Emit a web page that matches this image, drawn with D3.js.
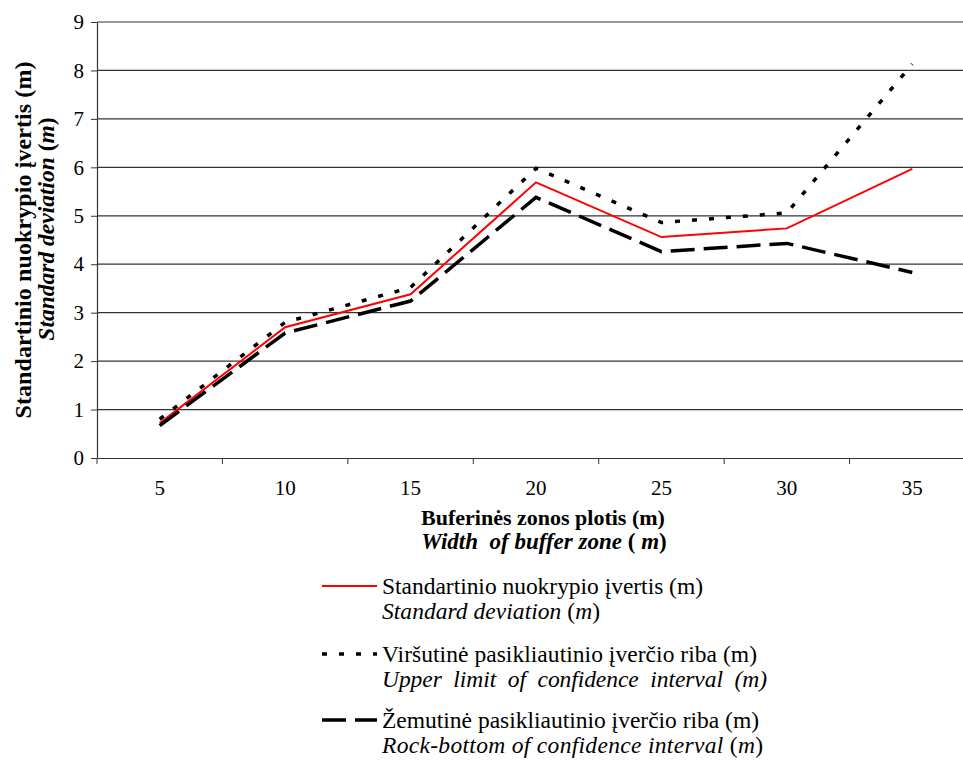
<!DOCTYPE html>
<html>
<head>
<meta charset="utf-8">
<script src="https://cdn.jsdelivr.net/npm/d3@7"></script>
</head>
<body style="margin:0; background:#fff">
<script>
const widths = ['5', '10', '15', '20', '25', '30', '35'];
const stdDev = [0.72, 2.7, 3.38, 5.69, 4.56, 4.74, 5.97];
const upperLimit = [0.8, 2.8, 3.52, 5.98, 4.86, 5.06, 8.13];
const lowerLimit = [0.67, 2.58, 3.24, 5.38, 4.26, 4.43, 3.83];
const yTicks = [0, 1, 2, 3, 4, 5, 6, 7, 8, 9];

// legend text: [text, italic] pieces
const legendItems = [
  { lt: 'Standartinio nuokrypio įvertis (m)', en: [['Standard deviation ', true], ['(', false], ['m', true], [')', false]],
    color: 'red', width: 2, dash: null, len: [321, 218] },
  { lt: 'Viršutinė pasikliautinio įverčio riba (m)', en: [['Upper  limit  of  confidence  interval  (m)', true]],
    color: '#000', width: 3.5, dash: '5,12', len: [375, 385] },
  { lt: 'Žemutinė pasikliautinio įverčio riba (m)', en: [['Rock-bottom of confidence interval ', true], ['(', false], ['m', true], [')', false]],
    color: '#000', width: 3.5, dash: '24,9', len: [377, 381] },
];

const series = [
  { values: stdDev, item: legendItems[0] },
  { values: upperLimit, item: legendItems[1] },
  { values: lowerLimit, item: legendItems[2] },
];

const W = 963, H = 762;
const plot = { left: 97, right: 975, top: 22, bottom: 458 };
const FONT = "'Liberation Serif', 'Times New Roman', serif";

const svg = d3.select('body').append('svg')
  .attr('width', W)
  .attr('height', H)
  .style('display', 'block')
  .style('font-family', FONT);

const x = d3.scaleBand().domain(widths).range([plot.left, plot.right]);
const y = d3.scaleLinear().domain([0, 9]).range([plot.bottom, plot.top]);

// gridlines
svg.append('g')
  .selectAll('line')
  .data(yTicks.slice(1))
  .join('line')
  .attr('x1', plot.left).attr('x2', plot.right)
  .attr('y1', d => y(d)).attr('y2', d => y(d))
  .attr('stroke', '#333')
  .attr('stroke-width', 1.2);

// y axis
const yAxis = svg.append('g')
  .attr('transform', `translate(${plot.left},0)`)
  .call(d3.axisLeft(y).tickValues(yTicks).tickSize(6).tickSizeOuter(0).tickPadding(7));
yAxis.attr('font-family', null);
yAxis.select('.domain').attr('stroke', '#333').attr('stroke-width', 1.2);
yAxis.selectAll('.tick line').attr('stroke', '#333');
yAxis.selectAll('text').style('font-size', '21px').style('font-family', FONT).attr('fill', '#000');

// x axis: ticks at band boundaries
const xAxis = svg.append('g')
  .attr('transform', `translate(0,${plot.bottom})`)
  .call(d3.axisBottom(x).tickSize(0).tickPadding(22));
xAxis.attr('font-family', null);
xAxis.select('.domain').attr('stroke', '#333').attr('stroke-width', 1.2);
xAxis.selectAll('text').style('font-size', '21px').style('font-family', FONT).attr('fill', '#000');
xAxis.selectAll('.bound')
  .data(widths)
  .join('line')
  .attr('class', 'bound')
  .attr('x1', d => x(d)).attr('x2', d => x(d))
  .attr('y1', 0).attr('y2', 6)
  .attr('stroke', '#333');

// lines
const line = d3.line()
  .x((d, i) => x(widths[i]) + x.bandwidth() / 2)
  .y(d => y(d));

svg.append('g')
  .selectAll('path')
  .data(series)
  .join('path')
  .attr('d', d => line(d.values))
  .attr('fill', 'none')
  .attr('stroke', d => d.item.color)
  .attr('stroke-width', d => d.item.width)
  .attr('stroke-dasharray', d => d.item.dash);

// helper for mixed italic / upright text
function pieces(sel, parts) {
  sel.selectAll('tspan')
    .data(parts)
    .join('tspan')
    .style('font-style', d => d[1] ? 'italic' : 'normal')
    .text(d => d[0]);
}

// axis titles
svg.append('text')
  .attr('x', 543).attr('y', 525)
  .attr('text-anchor', 'middle')
  .style('font-size', '22px').style('font-weight', 'bold')
  .text('Buferinės zonos plotis (m)');
svg.append('text')
  .attr('x', 544).attr('y', 549)
  .attr('text-anchor', 'middle')
  .attr('xml:space', 'preserve')
  .style('white-space', 'pre')
  .style('font-size', '23px').style('font-weight', 'bold')
  .call(pieces, [['Width  of buffer zone ', true], ['( ', false], ['m', true], [')', false]]);

svg.append('text')
  .attr('transform', 'translate(31,240) rotate(-90)')
  .attr('text-anchor', 'middle')
  .attr('textLength', 357).attr('lengthAdjust', 'spacing')
  .style('font-size', '24px').style('font-weight', 'bold')
  .text('Standartinio nuokrypio įvertis (m)');
svg.append('text')
  .attr('transform', 'translate(54,229) rotate(-90)')
  .attr('text-anchor', 'middle')
  .style('font-size', '23.5px').style('font-weight', 'bold')
  .call(pieces, [['Standard deviation ', true], ['(', false], ['m', true], [')', false]]);

// legend
const legend = svg.append('g')
  .selectAll('g')
  .data(legendItems)
  .join('g')
  .attr('transform', (d, i) => `translate(322,${[586, 654, 720][i]})`);

legend.append('line')
  .attr('x1', 0).attr('x2', 55)
  .attr('y1', 0).attr('y2', 0)
  .attr('stroke', d => d.color)
  .attr('stroke-width', d => d.width)
  .attr('stroke-dasharray', d => d.dash);

legend.append('text')
  .attr('x', 60).attr('y', 8)
  .attr('textLength', d => d.len[0]).attr('lengthAdjust', 'spacing')
  .style('font-size', '23.5px')
  .text(d => d.lt);

legend.append('text')
  .attr('x', 60).attr('y', 33)
  .attr('textLength', d => d.len[1]).attr('lengthAdjust', 'spacing')
  .attr('xml:space', 'preserve')
  .style('white-space', 'pre')
  .style('font-size', '23.5px')
  .each(function (d) { d3.select(this).call(pieces, d.en); });
</script>
</body>
</html>
